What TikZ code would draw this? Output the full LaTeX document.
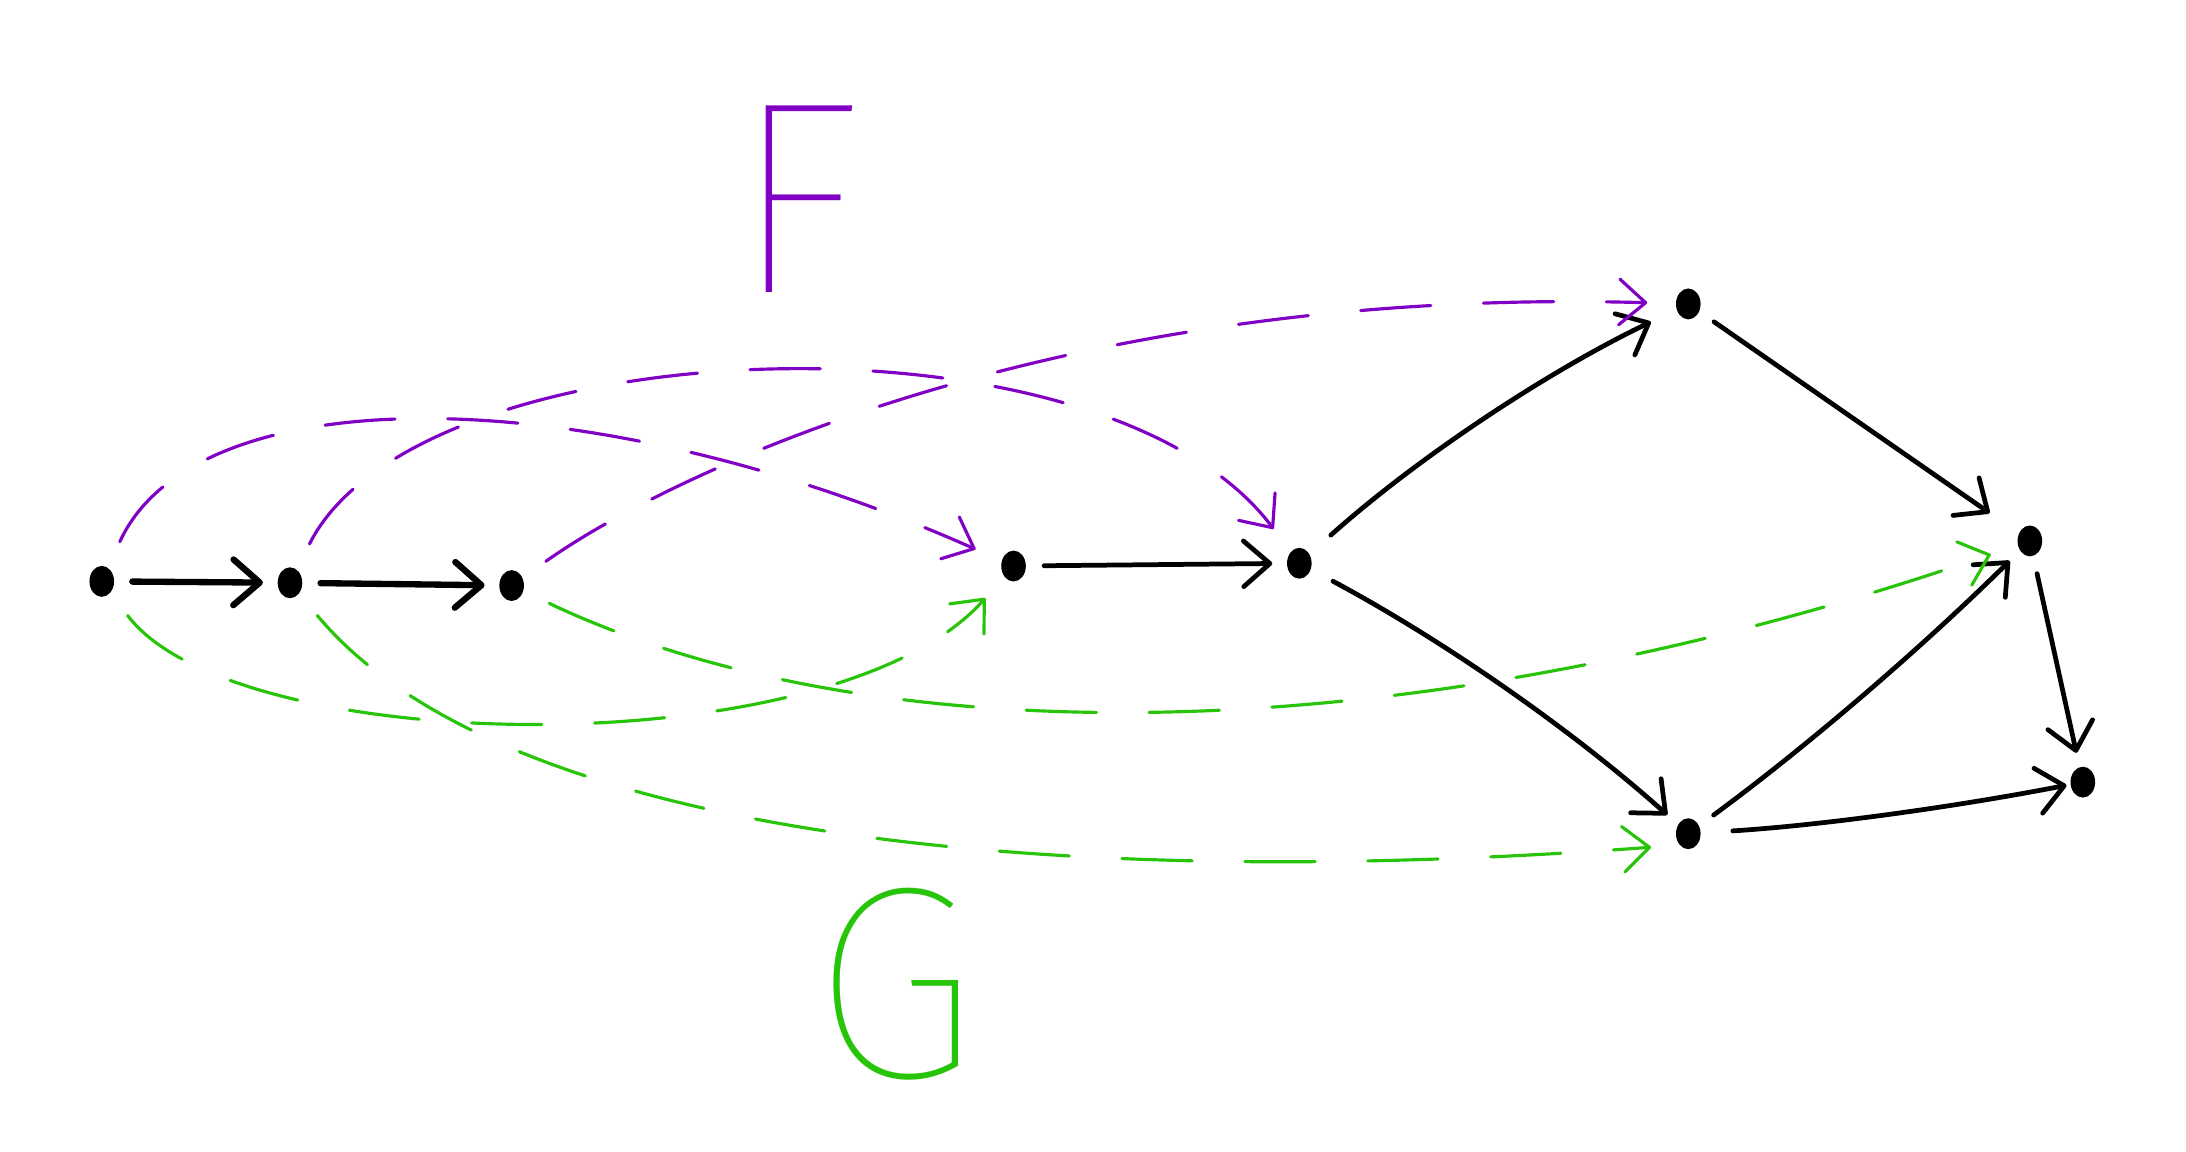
\documentclass[tikz,border=0pt]{standalone}
\usepackage{fontspec}
\newfontfamily\lblfont{Fira Sans Thin}
\usetikzlibrary{arrows.meta,shapes.geometric}
\definecolor{fpurple}{RGB}{128,0,196}
\definecolor{ggreen}{RGB}{40,196,10}
\begin{document}
\begin{tikzpicture}[x=0.01394cm,y=-0.01394cm,
  dot/.style={ellipse,fill=black,inner sep=0pt,minimum width=7pt,minimum height=8.8pt},
  tip/.style={-{Straight Barb[length=7.5pt,width=13pt,round]}},
  blk/.style={draw=black,line width=1.35pt,line cap=round,tip,shorten <=5pt,shorten >=4pt},
  mapline/.style={line width=0.9pt,line cap=round,dash pattern=on 20pt off 15pt,tip,shorten <=8pt,shorten >=8pt},
  fmap/.style={mapline,draw=fpurple},
  gmap/.style={mapline,draw=ggreen},
  lbl/.style={inner sep=2pt,font=\lblfont\fontsize{78}{78}\selectfont}]
\useasboundingbox (0,0) rectangle (1568,826);

% objects
\node[dot] (a) at (73,417) {};
\node[dot] (b) at (208,418) {};
\node[dot] (c) at (367,420) {};
\node[dot] (d) at (727,406) {};
\node[dot] (e) at (932,404) {};
\node[dot] (f) at (1211,218) {};
\node[dot] (g) at (1456,388) {};
\node[dot] (h) at (1211,598) {};
\node[dot] (i) at (1494,561) {};

% morphisms
\draw[blk,line width=1.8pt] (a) -- (b);
\draw[blk,line width=1.8pt] (b) -- (c);
\draw[blk] (d) -- (e);
\draw[blk,shorten <=8pt,shorten >=8pt] (e) .. controls (1016,329) and (1109,267) .. (f);
\draw[blk,shorten >=10pt] (f) -- (g);
\draw[blk,shorten <=7pt] (e) .. controls (1033,458) and (1126,522) .. (h);
\draw[blk] (h) .. controls (1298,534) and (1379,464) .. (g);
\draw[blk,shorten <=9pt,shorten >=1pt] (h) .. controls (1306,592) and (1401,579) .. (i);
\draw[blk] (g) -- (i);

% the functor F
\draw[fmap] (a) .. controls (140,270) and (420,270) .. (d);
\draw[fmap] (b) .. controls (300,235) and (790,215) .. (e);
\draw[fmap] (c) .. controls (480,340) and (760,205) .. (f);

% the functor G
\draw[gmap] (a) .. controls (170,545) and (600,550) .. (d);
\draw[gmap] (b) .. controls (360,600) and (750,640) .. (h.south west);
\draw[gmap] (c) .. controls (620,540) and (1000,545) .. (g);

% labels
\node[lbl,text=fpurple] (F) at (572,143) {F};
\node[lbl,text=ggreen] (G) at (642,706) {G};
\end{tikzpicture}
\end{document}
